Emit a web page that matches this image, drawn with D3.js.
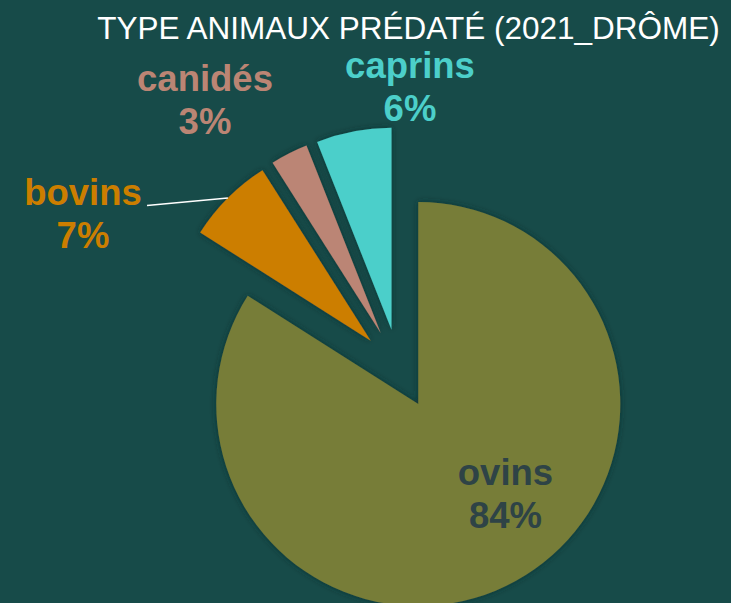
<!DOCTYPE html>
<html>
<head>
<meta charset="utf-8">
<script src="https://cdn.jsdelivr.net/npm/d3@7"></script>
<style>
  body { margin: 0; background: #174b49; }
  svg { display: block; }
</style>
</head>
<body>
<svg id="chart"></svg>
<script>
// data
var categories = ["ovins", "bovins", "canidés", "caprins"];
var values = [84, 7, 3, 6];
var colors = ["#777d39", "#cc7e00", "#bb8574", "#4ccfca"];
var labelColors = ["#2e4346", "#cc7e00", "#bb8574", "#4ccfca"];
var title = "TYPE ANIMAUX PRÉDATÉ (2021_DRÔME)";

var w = 731, h = 603;
var cx = 399, cy = 369, r = 202, explode = 40;

// label anchors (baseline of first line), placed like the original
var labelAt = {
  "ovins":   [505.5, 485],
  "bovins":  [83, 205],
  "canidés": [205, 91],
  "caprins": [410, 78]
};

var svg = d3.select('#chart')
    .attr('width', w)
    .attr('height', h);

svg.append('rect')
    .attr('width', w)
    .attr('height', h)
    .attr('fill', '#174b49');

var defs = svg.append('defs');
defs.append('filter')
    .attr('id', 'shadow')
    .attr('x', '-20%').attr('y', '-20%')
    .attr('width', '140%').attr('height', '140%')
  .append('feDropShadow')
    .attr('dx', 0).attr('dy', 0)
    .attr('stdDeviation', 3)
    .attr('flood-color', '#0b2c2c')
    .attr('flood-opacity', 0.7);

svg.append('text')
    .attr('x', 408.5)
    .attr('y', 38.5)
    .attr('text-anchor', 'middle')
    .attr('font-family', '"Liberation Sans", Arial, sans-serif')
    .attr('font-size', 31.5)
    .attr('fill', '#ffffff')
    .text(title);

var data = categories.map(function(c, i) { return {name: c, value: values[i], color: colors[i], lc: labelColors[i]}; });

var pie = d3.pie().sort(null).value(function(d) { return d.value; });
var arc = d3.arc().innerRadius(0).outerRadius(r);
var total = d3.sum(values);

var slices = svg.append('g')
    .attr('transform', 'translate(' + cx + ',' + cy + ')')
    .selectAll('path')
    .data(pie(data))
    .enter()
    .append('path')
    .attr('d', arc)
    .attr('fill', function(d) { return d.data.color; })
    .attr('filter', 'url(#shadow)')
    .attr('transform', function(d) {
      var p = d3.pointRadial((d.startAngle + d.endAngle) / 2, explode);
      return 'translate(' + p[0] + ',' + p[1] + ')';
    });

// leader line for bovins, to the middle of its outer arc
var bov = pie(data)[1];
var bovMid = (bov.startAngle + bov.endAngle) / 2;
var bovEdge = d3.pointRadial(bovMid, r + explode);
svg.append('line')
    .attr('x1', 147)
    .attr('y1', 205.5)
    .attr('x2', cx + bovEdge[0])
    .attr('y2', cy + bovEdge[1])
    .attr('stroke', '#ffffff')
    .attr('stroke-width', 1.5);

var fmt = d3.format('.0%');
var labels = svg.append('g')
    .attr('font-family', '"Liberation Sans", Arial, sans-serif')
    .attr('font-weight', 'bold')
    .attr('font-size', 36.5)
    .attr('text-anchor', 'middle')
    .selectAll('text')
    .data(data)
    .enter()
    .append('text')
    .attr('fill', function(d) { return d.lc; })
    .attr('x', function(d) { return labelAt[d.name][0]; })
    .attr('y', function(d) { return labelAt[d.name][1]; });

labels.append('tspan')
    .attr('x', function(d) { return labelAt[d.name][0]; })
    .text(function(d) { return d.name; });
labels.append('tspan')
    .attr('x', function(d) { return labelAt[d.name][0]; })
    .attr('dy', 43)
    .text(function(d) { return fmt(d.value / total); });
</script>
</body>
</html>
